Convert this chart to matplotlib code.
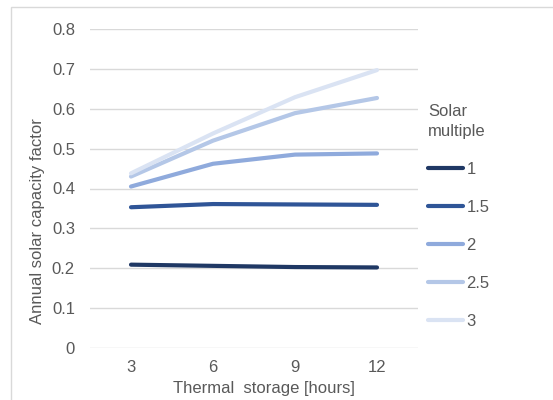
import matplotlib
matplotlib.use("Agg")
import matplotlib.pyplot as plt
from matplotlib.patches import Rectangle

plt.rcParams['font.family'] = ['Liberation Sans', 'DejaVu Sans']

storage_hours = ['3', '6', '9', '12']
multiples = ['1', '1.5', '2', '2.5', '3']
sm_1 = [0.209, 0.206, 0.203, 0.202]
sm_1_5 = [0.353, 0.361, 0.360, 0.359]
sm_2 = [0.405, 0.462, 0.485, 0.488]
sm_2_5 = [0.430, 0.520, 0.589, 0.627]
sm_3 = [0.438, 0.538, 0.629, 0.697]
series = [sm_1, sm_1_5, sm_2, sm_2_5, sm_3]
colors = ['#1F3864', '#2F5597', '#8FAADC', '#B4C7E7', '#DAE3F3']

text_color = '#595959'
fs = 12
W, H = 553, 400

fig = plt.figure(figsize=(W / 100, H / 100), dpi=100)
fig.patch.set_facecolor('white')

# light outer frame of the chart area
fig.patches.append(Rectangle((11 / W, -0.1), 1.2, 1.1 - 6.5 / H,
                             transform=fig.transFigure, fill=False,
                             edgecolor='#D9D9D9', linewidth=1.0))

ax = fig.add_axes([90 / W, 1 - 348 / H, (418 - 90) / W, (348 - 29) / H])
x = list(range(len(storage_hours)))
for vals, lab, col in zip(series, multiples, colors):
    ax.plot(x, vals, color=col, linewidth=3.0, solid_capstyle='round',
            solid_joinstyle='round', label=lab)

ax.set_xlim(-0.5, 3.5)
ax.set_ylim(0, 0.8)
ax.set_xticks(x)
ax.set_xticklabels(storage_hours)
ax.set_yticks([0, 0.1, 0.2, 0.3, 0.4, 0.5, 0.6, 0.7, 0.8])
ax.set_yticklabels(['0', '0.1', '0.2', '0.3', '0.4', '0.5', '0.6', '0.7', '0.8'])
ax.grid(axis='y', color='#D9D9D9', linewidth=1.0)
ax.set_axisbelow(True)
for s in ax.spines.values():
    s.set_visible(False)
ax.tick_params(axis='both', length=0, labelsize=fs, labelcolor=text_color)
ax.tick_params(axis='y', pad=10.8)
ax.tick_params(axis='x', pad=8.5)

fig.text(263.5 / W, 1 - 388 / H, 'Thermal  storage [hours]', fontsize=fs,
         color=text_color, ha='center', va='center')
fig.text(38 / W, 1 - 221 / H, 'Annual solar capacity factor', fontsize=fs,
         color=text_color, ha='center', va='center', rotation=90)

leg = ax.legend(title='Solar\nmultiple', loc='upper left',
                bbox_to_anchor=(428 / W, 1 - 104 / H), bbox_transform=fig.transFigure,
                frameon=False, fontsize=fs, title_fontsize=fs,
                handlelength=2.1, handletextpad=0.2, labelspacing=1.37,
                alignment='left', borderaxespad=0, borderpad=0)
for t in leg.get_texts():
    t.set_color(text_color)
leg.get_title().set_color(text_color)
leg.get_title().set_linespacing(1.45)

fig.savefig('out.png', dpi=100, facecolor='white')
